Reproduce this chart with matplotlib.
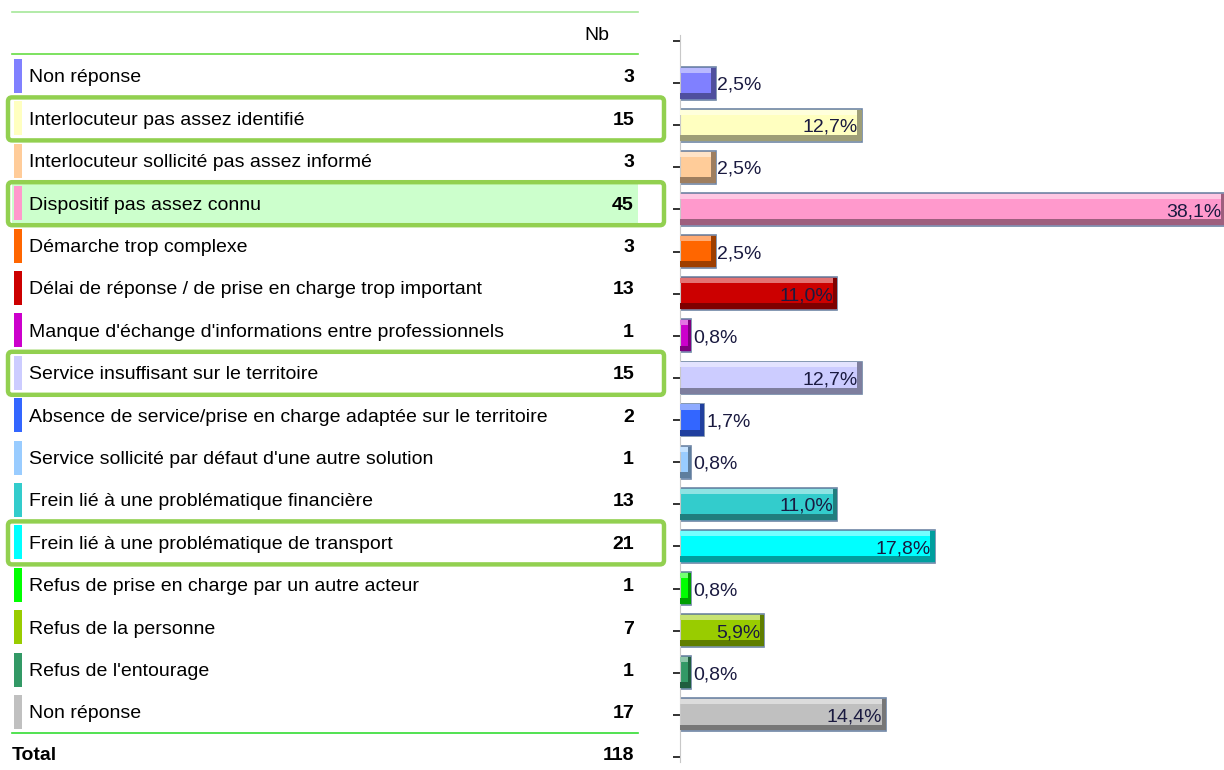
import matplotlib
matplotlib.use("Agg")
import matplotlib.pyplot as plt
import matplotlib.colors as mcolors
from matplotlib.patches import FancyBboxPatch, Rectangle

plt.rcParams['font.family'] = ['Liberation Sans Narrow', 'Liberation Sans', 'DejaVu Sans']

# data
labels = ["Non réponse",
          "Interlocuteur pas assez identifié",
          "Interlocuteur sollicité pas assez informé",
          "Dispositif pas assez connu",
          "Démarche trop complexe",
          "Délai de réponse / de prise en charge trop important",
          "Manque d'échange d'informations entre professionnels",
          "Service insuffisant sur le territoire",
          "Absence de service/prise en charge adaptée sur le territoire",
          "Service sollicité par défaut d'une autre solution",
          "Frein lié à une problématique financière",
          "Frein lié à une problématique de transport",
          "Refus de prise en charge par un autre acteur",
          "Refus de la personne",
          "Refus de l'entourage",
          "Non réponse"]
counts = [3, 15, 3, 45, 3, 13, 1, 15, 2, 1, 13, 21, 1, 7, 1, 17]
pcts = [2.5, 12.7, 2.5, 38.1, 2.5, 11.0, 0.8, 12.7, 1.7, 0.8, 11.0, 17.8, 0.8, 5.9, 0.8, 14.4]
total = 118
colors = ["#8080ff", "#ffffc0", "#ffcc99", "#ff99cc", "#ff6600", "#cc0000",
          "#cc00cc", "#ccccff", "#3366ff", "#99ccff", "#33cccc", "#00ffff",
          "#00ff00", "#99cc00", "#339966", "#c0c0c0"]
boxed = [1, 3, 7, 11]
shaded = [3]

W, H = 1224, 770
fig = plt.figure(figsize=(W / 100, H / 100), dpi=100)

# ---- left table (pixel coordinates) ----
ax_t = fig.add_axes([0, 0, 1, 1])
ax_t.set_xlim(0, W)
ax_t.set_ylim(H, 0)
ax_t.axis('off')

row0, step = 76, 42.4
fs = 14
dy = 2  # text baseline nudge

ax_t.plot([12, 638], [12, 12], color="#a6e89a", lw=1.2)
ax_t.plot([12, 638], [54, 54], color="#66dd44", lw=1.2)
ax_t.text(597, 33 + dy, "Nb", ha='center', va='center', fontsize=fs)

for i, (lab, n, c) in enumerate(zip(labels, counts, colors)):
    y = row0 + i * step
    if i in shaded:
        ax_t.add_patch(Rectangle((12, y - 20), 626, 40, facecolor="#ccffcc",
                                 edgecolor='none', zorder=0))
    ax_t.add_patch(Rectangle((14, y - 17), 8, 34, facecolor=c, edgecolor='none'))
    ax_t.text(29, y + dy, lab, ha='left', va='center', fontsize=fs)
    ax_t.text(634, y + dy, str(n), ha='right', va='center', fontsize=fs, fontweight='bold')
    if i in boxed:
        ax_t.add_patch(FancyBboxPatch((8, y - 21), 656, 43,
                                      boxstyle="round,pad=0,rounding_size=4",
                                      facecolor='none', edgecolor="#92d050",
                                      lw=3.2, zorder=5))

ax_t.plot([12, 638], [733, 733], color="#33dd33", lw=1.2)
ax_t.text(12, 753 + dy, "Total", ha='left', va='center', fontsize=fs, fontweight='bold')
ax_t.text(634, 753 + dy, str(total), ha='right', va='center', fontsize=fs, fontweight='bold')

# ---- bar chart ----
px_per_unit = 42.12
ax_top, ax_bot = 35, 762
ax_b = fig.add_axes([680 / W, (H - ax_bot) / H, (W - 680) / W, (ax_bot - ax_top) / H])
ax_b.patch.set_alpha(0)
px_per_pct = 14.3
ax_b.set_xlim(0, (W - 680) / px_per_pct)
ax_b.set_ylim(16 + (ax_bot - 757) / px_per_unit, -1 - (41 - ax_top) / px_per_unit)

ypos = list(range(len(pcts)))
bh = 0.78
ax_b.barh(ypos, pcts, height=bh, color=colors, edgecolor="#6f86a6", lw=1.2, zorder=2)
for y, p, c in zip(ypos, pcts, colors):
    rgb = mcolors.to_rgb(c)
    dark = tuple(v * 0.62 for v in rgb)
    light = tuple(v + (1 - v) * 0.45 for v in rgb)
    ax_b.barh(y - bh / 2 + 0.08, p, height=0.12, color=light, lw=0, zorder=3)
    ax_b.barh(y + bh / 2 - 0.09, p, height=0.14, color=dark, lw=0, zorder=3)
    rw = min(0.3, p * 0.3)
    ax_b.barh(y, rw, left=p - rw, height=bh * 0.95, color=dark, lw=0, zorder=3)
    txt = f"{p:.1f}%".replace('.', ',')
    if p >= 5:
        ax_b.text(p - 0.25, y + 0.05, txt, ha='right', va='center',
                  fontsize=fs, color="#1a1a40", zorder=4)
    else:
        ax_b.text(p + 0.12, y + 0.05, txt, ha='left', va='center',
                  fontsize=fs, color="#1a1a40", zorder=4)

ax_b.set_yticks(range(-1, 17))
ax_b.set_yticklabels([])
ax_b.tick_params(axis='y', length=5, width=1.3, color="#222222")
ax_b.set_xticks([])
for s in ['top', 'right', 'bottom']:
    ax_b.spines[s].set_visible(False)
ax_b.spines['left'].set_color("#c8c8c8")

fig.savefig("out.png", dpi=100)
